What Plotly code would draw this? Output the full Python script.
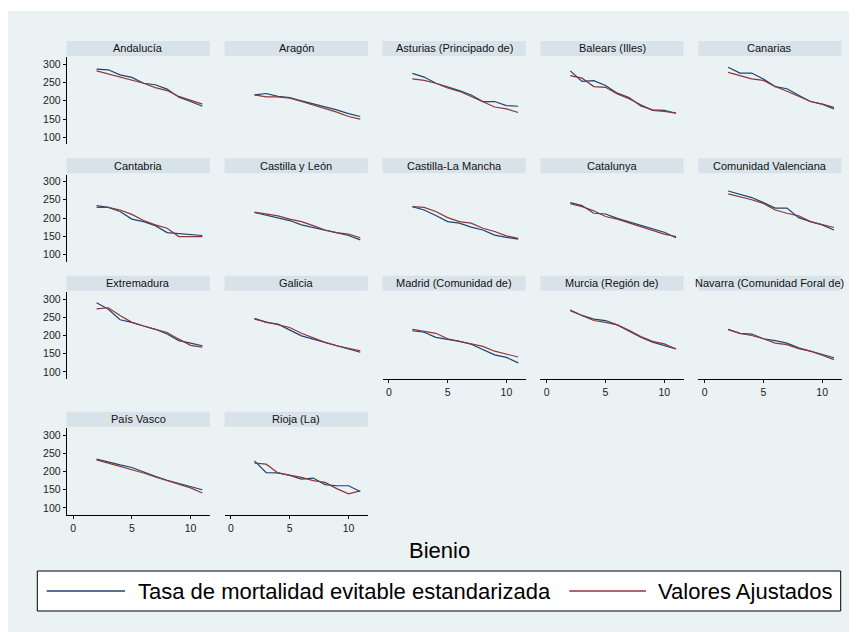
import plotly.graph_objects as go

# page has an 8px body margin: figure occupies (8,8)-(857,632)
OFF = 8
W, H = 857 - OFF, 632 - OFF

bienio = [2, 3, 4, 5, 6, 7, 8, 9, 10, 11]

regiones = ["Andalucía", "Aragón", "Asturias (Principado de)", "Balears (Illes)", "Canarias",
            "Cantabria", "Castilla y León", "Castilla-La Mancha", "Catalunya", "Comunidad Valenciana",
            "Extremadura", "Galicia", "Madrid (Comunidad de)", "Murcia (Región de)",
            "Navarra (Comunidad Foral de)", "País Vasco", "Rioja (La)"]

obs_andalucia = [287, 285, 271, 264, 248, 244, 232, 210, 198, 185]
fit_andalucia = [282, 274, 266, 257, 248, 236, 228, 212, 201, 191]
obs_aragon = [216, 220, 212, 209, 200, 192, 182, 175, 165, 157]
fit_aragon = [216, 211, 211, 207, 198, 189, 178, 169, 157, 150]
obs_asturias = [275, 265, 248, 239, 228, 216, 198, 198, 187, 185]
fit_asturias = [260, 256, 248, 235, 226, 212, 198, 183, 178, 168]
obs_balears = [282, 253, 255, 242, 221, 209, 186, 175, 174, 166]
fit_balears = [269, 262, 239, 237, 219, 206, 189, 174, 171, 166]
obs_canarias = [292, 276, 276, 260, 239, 233, 215, 198, 191, 178]
fit_canarias = [278, 269, 260, 256, 239, 226, 212, 198, 191, 182]
obs_cantabria = [234, 229, 218, 197, 190, 179, 160, 158, 155, 152]
fit_cantabria = [229, 229, 222, 210, 193, 181, 172, 149, 149, 149]
obs_cyl = [215, 208, 199, 193, 181, 174, 165, 160, 152, 140]
fit_cyl = [216, 211, 206, 197, 190, 179, 167, 160, 156, 146]
obs_clm = [231, 222, 207, 190, 186, 175, 167, 153, 147, 142]
fit_clm = [231, 229, 218, 201, 190, 186, 172, 163, 151, 144]
obs_catalunya = [242, 234, 213, 211, 199, 190, 181, 170, 161, 146]
fit_catalunya = [239, 231, 220, 204, 197, 187, 176, 167, 156, 149]
obs_valenciana = [274, 265, 256, 242, 227, 227, 201, 190, 181, 167]
fit_valenciana = [266, 259, 250, 240, 222, 213, 206, 190, 181, 174]
obs_extremadura = [290, 272, 243, 236, 226, 217, 204, 186, 179, 172]
fit_extremadura = [273, 276, 255, 236, 226, 218, 208, 190, 173, 168]
obs_galicia = [247, 236, 231, 216, 199, 190, 181, 172, 164, 154]
fit_galicia = [245, 238, 231, 222, 206, 193, 181, 172, 164, 158]
obs_madrid = [213, 209, 195, 190, 184, 176, 161, 147, 140, 125]
fit_madrid = [217, 211, 206, 191, 184, 179, 170, 157, 150, 141]
obs_murcia = [270, 255, 245, 241, 229, 211, 195, 182, 172, 163]
fit_murcia = [268, 255, 241, 236, 229, 214, 197, 184, 177, 163]
obs_navarra = [217, 206, 204, 191, 186, 179, 166, 157, 148, 139]
fit_navarra = [216, 206, 200, 191, 179, 175, 164, 157, 146, 134]
obs_paisvasco = [234, 225, 218, 211, 198, 187, 176, 167, 159, 150]
fit_paisvasco = [232, 223, 216, 207, 196, 185, 175, 164, 155, 141]
obs_rioja = [229, 197, 196, 189, 179, 182, 164, 161, 161, 145]
fit_rioja = [223, 220, 196, 191, 184, 175, 170, 153, 139, 147]

observados = [obs_andalucia, obs_aragon, obs_asturias, obs_balears, obs_canarias,
              obs_cantabria, obs_cyl, obs_clm, obs_catalunya, obs_valenciana,
              obs_extremadura, obs_galicia, obs_madrid, obs_murcia, obs_navarra,
              obs_paisvasco, obs_rioja]
ajustados = [fit_andalucia, fit_aragon, fit_asturias, fit_balears, fit_canarias,
             fit_cantabria, fit_cyl, fit_clm, fit_catalunya, fit_valenciana,
             fit_extremadura, fit_galicia, fit_madrid, fit_murcia, fit_navarra,
             fit_paisvasco, fit_rioja]

y_ticks = [100, 150, 200, 250, 300]
x_ticks = [0, 5, 10]
legend_labels = ["Tasa de mortalidad evitable estandarizada", "Valores Ajustados"]
x_title = "Bienio"

NAVY = "#1a476f"
MAROON = "#90353b"
BG = "#eaf2f3"
STRIP = "#d8e3e9"
FONT = "Arial, Liberation Sans, sans-serif"

col_left = [66.7 + 157.9 * c for c in range(5)]
col_w = 143.3
row_top = [57.3, 174.5, 292.0, 428.0]
row_h = 87.0


def px(x):
    return (x - OFF) / W


def py(y):
    return 1 - (y - OFF) / H


fig = go.Figure()
layout = {}
shapes = []
annotations = []

# outer background
shapes.append(dict(type="rect", xref="paper", yref="paper", x0=0, x1=1, y0=0, y1=py(11),
                   fillcolor=BG, line=dict(width=0), layer="below"))

n = len(regiones)
for i in range(n):
    r, c = divmod(i, 5)
    suffix = "" if i == 0 else str(i + 1)
    xa, ya = "xaxis" + suffix, "yaxis" + suffix
    x0, x1 = col_left[c], col_left[c] + col_w
    t, b = row_top[r], row_top[r] + row_h
    has_x = (r == 3) or (r == 2 and c >= 2)
    layout[xa] = dict(domain=[px(x0), px(x1)], range=[-0.54, 11.65], anchor="y" + suffix,
                      showgrid=False, zeroline=False, fixedrange=True,
                      showline=has_x, linecolor="#000000", linewidth=1,
                      ticks="outside" if has_x else "", ticklen=3, tickcolor="#000000",
                      tickvals=x_ticks, showticklabels=has_x,
                      tickfont=dict(family=FONT, size=10.5, color="#222222"))
    layout[ya] = dict(domain=[py(b), py(t)], range=[80.8, 319.2], anchor="x" + suffix,
                      showgrid=True, gridcolor=BG, gridwidth=1, zeroline=False, fixedrange=True,
                      showline=(c == 0), linecolor="#000000", linewidth=1,
                      ticks="outside" if c == 0 else "", ticklen=3, tickcolor="#000000",
                      tickvals=y_ticks, showticklabels=(c == 0),
                      tickfont=dict(family=FONT, size=10.5, color="#222222"))
    fig.add_trace(go.Scatter(x=bienio, y=observados[i], mode="lines", name=legend_labels[0],
                             line=dict(color=NAVY, width=1.2), showlegend=False,
                             xaxis="x" + suffix, yaxis="y" + suffix))
    fig.add_trace(go.Scatter(x=bienio, y=ajustados[i], mode="lines", name=legend_labels[1],
                             line=dict(color=MAROON, width=1.2), showlegend=False,
                             xaxis="x" + suffix, yaxis="y" + suffix))
    # title strip
    shapes.append(dict(type="rect", xref="paper", yref="paper", x0=px(x0), x1=px(x1),
                       y0=py(t - 1.3), y1=py(t - 16.3), fillcolor=STRIP, line=dict(width=0),
                       layer="below"))
    annotations.append(dict(text=regiones[i], xref="paper", yref="paper",
                            x=px((x0 + x1) / 2), y=py(t - 8.8), xanchor="center", yanchor="middle",
                            showarrow=False, font=dict(family=FONT, size=11, color="#111111")))

# x title
annotations.append(dict(text=x_title, xref="paper", yref="paper", x=px(440), y=py(550.5),
                        xanchor="center", yanchor="middle", showarrow=False,
                        font=dict(family=FONT, size=22, color="#000000")))

# legend box
shapes.append(dict(type="rect", xref="paper", yref="paper", x0=px(37.3), x1=px(840.7),
                   y0=py(611), y1=py(571), fillcolor="#ffffff",
                   line=dict(color="#000000", width=1)))
shapes.append(dict(type="line", xref="paper", yref="paper", x0=px(46.7), x1=px(125),
                   y0=py(591), y1=py(591), line=dict(color=NAVY, width=1.6)))
shapes.append(dict(type="line", xref="paper", yref="paper", x0=px(569.3), x1=px(646),
                   y0=py(591), y1=py(591), line=dict(color=MAROON, width=1.6)))
annotations.append(dict(text=legend_labels[0], xref="paper", yref="paper", x=px(136), y=py(591),
                        xanchor="left", yanchor="middle", showarrow=False,
                        font=dict(family=FONT, size=22, color="#000000")))
annotations.append(dict(text=legend_labels[1], xref="paper", yref="paper", x=px(656), y=py(591),
                        xanchor="left", yanchor="middle", showarrow=False,
                        font=dict(family=FONT, size=22, color="#000000")))

fig.update_layout(width=W, height=H, autosize=False,
                  margin=dict(l=0, r=0, t=0, b=0, pad=0),
                  paper_bgcolor="#ffffff", plot_bgcolor="#ffffff",
                  showlegend=False, shapes=shapes, annotations=annotations,
                  font=dict(family=FONT), **layout)

fig.write_html("out.html")
